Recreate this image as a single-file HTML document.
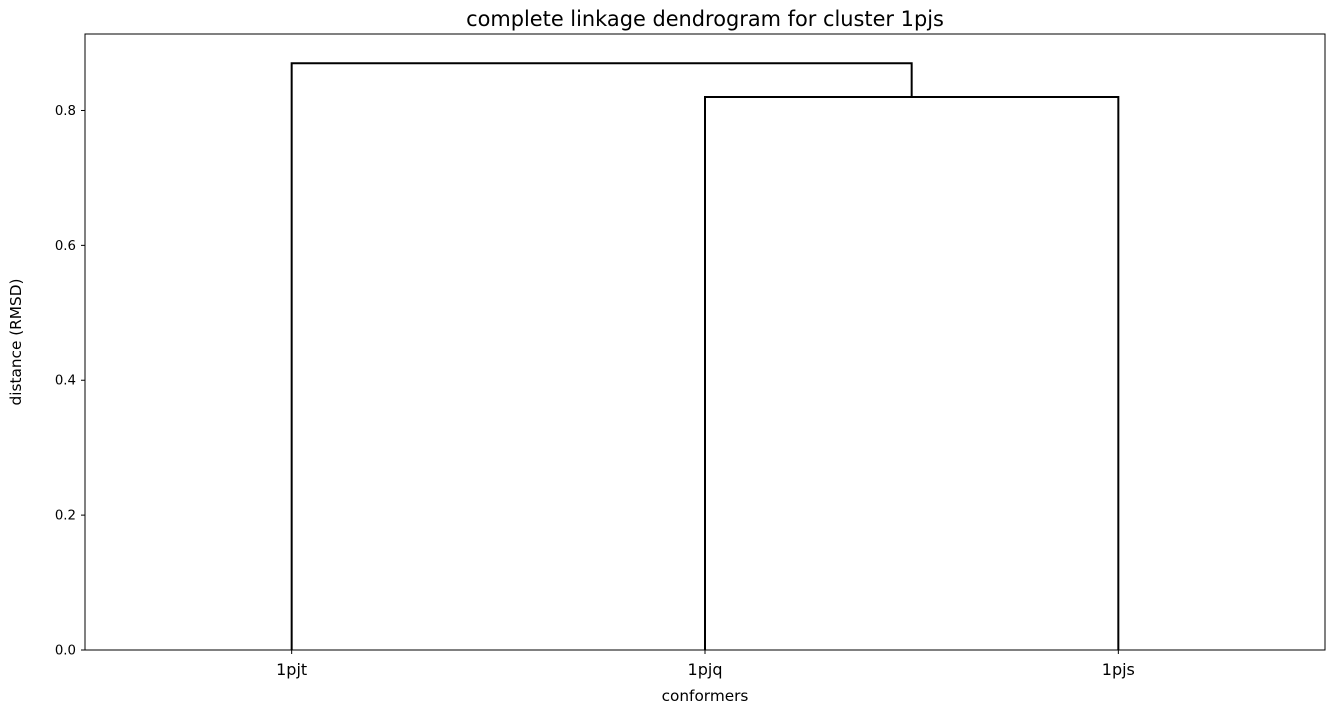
<!DOCTYPE html>
<html><head><meta charset="utf-8"><style>
html,body{margin:0;padding:0;background:#fff;}
svg{display:block;font-family:"DejaVu Sans","Liberation Sans",sans-serif;}
</style></head><body>
<svg id="chart" width="1334" height="714">
<rect x="0" y="0" width="1334" height="714" fill="#fff"/>
<text x="705" y="26" font-size="20.9" text-anchor="middle">complete linkage dendrogram for cluster 1pjs</text>
<g id="marks"></g>
<g id="yticks"></g>
<g id="xticks"></g>
<rect x="85" y="34" width="1240" height="616" fill="none" stroke="#000" stroke-width="1"/>
<text x="705" y="701" font-size="15.3" text-anchor="middle">conformers</text>
<text transform="translate(21,342) rotate(-90)" font-size="15.3" text-anchor="middle">distance (RMSD)</text>
</svg>
<script>
const leaves = ["1pjt","1pjq","1pjs"];
const linkLeft = [15, 5];
const linkLeftH = [0, 0];
const linkRightH = [0, 0.82];
const linkH = [0.82, 0.87];
const rightX = [25, 20];
const yTicks = [0, 0.2, 0.4, 0.6, 0.8];
const yTickLabels = ["0.0","0.2","0.4","0.6","0.8"];

const NS = "http://www.w3.org/2000/svg";
const L=85,R=1325,T=34,B=650, xMax=30, yMax=0.9134;
const sx = v => L + v/xMax*(R-L);
const sy = v => B - v/yMax*(B-T);
function mk(tag, attrs, parent){const e=document.createElementNS(NS,tag);for(const k in attrs)e.setAttribute(k,attrs[k]);parent.appendChild(e);return e;}
const marks=document.getElementById('marks');
for(let i=0;i<linkH.length;i++){
  const x1=sx(linkLeft[i]), x2=sx(rightX[i]);
  const d=`M${x1},${sy(linkLeftH[i])} L${x1},${sy(linkH[i])} L${x2},${sy(linkH[i])} L${x2},${sy(linkRightH[i])}`;
  const p=mk('path',{d:d,fill:'none',stroke:'#000','stroke-width':2},marks);
  
  
}
const yt=document.getElementById('yticks');
yTicks.forEach((v,i)=>{
  const y=sy(v);
  const l=mk('line',{x1:L-4,x2:L,y1:y,y2:y,stroke:'#000'},yt);
  
  
  const t=mk('text',{x:L-9,y:y+4.5,'font-size':13.3,'text-anchor':'end'},yt);
  t.textContent=yTickLabels[i];
  
  
});
const xt=document.getElementById('xticks');
leaves.forEach((s,i)=>{
  const x=sx(5+10*i);
  const l=mk('line',{x1:x,x2:x,y1:B,y2:B+4,stroke:'#000'},xt);
  
  
  const t=mk('text',{x:x,y:B+25,'font-size':16,'text-anchor':'middle'},xt);
  t.textContent=s;
  
  
});
</script>
</body></html>
